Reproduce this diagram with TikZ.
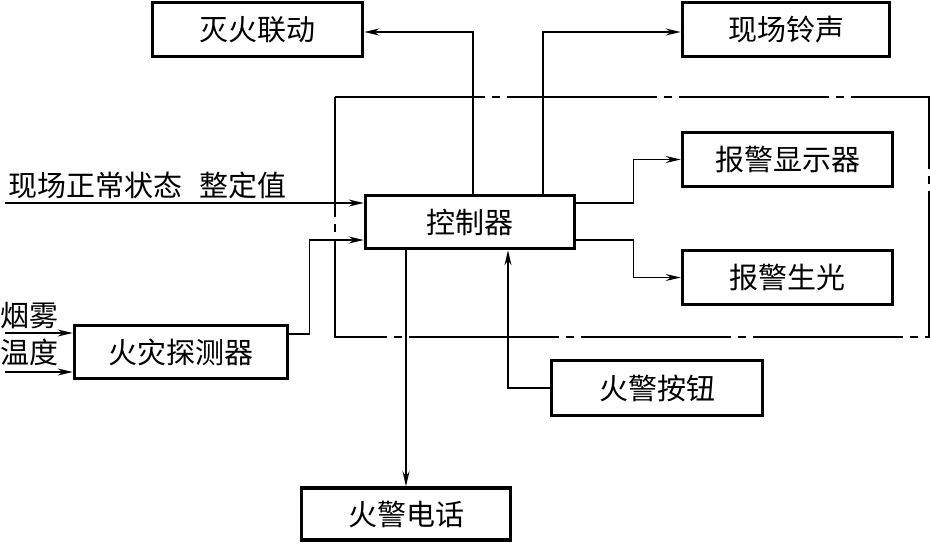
\documentclass[tikz,border=0pt]{standalone}
\usepackage{fontspec}
\newfontfamily\cjk{Noto Sans CJK SC}
\usetikzlibrary{arrows.meta}
\tikzset{
  blk/.style={draw, line width=3.6pt, inner sep=0pt, font=\cjk\fontsize{29}{30}\selectfont},
  lbl/.style={inner sep=0pt, font=\cjk\fontsize{29}{30}\selectfont},
  arr/.style={line width=1.2pt, -{Stealth[length=15pt,width=7pt,inset=5pt]}},
  dashdotbox/.style={line width=1.6pt, dash pattern=on 150pt off 7pt on 8pt off 7pt}
}
\begin{document}
\begin{tikzpicture}[x=1pt,y=-1pt]
\useasboundingbox (0,0) rectangle (930,546);
% dash-dot boundary
\draw[dashdotbox] (335,97) -- (929,97) -- (929,337) -- (335,337) -- cycle;
% boxes
\node[blk, minimum width=210pt, minimum height=54pt] (fire) at (257.5,29.5) {灭火联动};
\node[blk, minimum width=207pt, minimum height=54pt] (bell) at (786,29.5) {现场铃声};
\node[blk, minimum width=210pt, minimum height=54pt] (disp) at (787.5,159.5) {报警显示器};
\node[blk, minimum width=210pt, minimum height=54pt] (light) at (787.5,277.5) {报警生光};
\node[blk, minimum width=209pt, minimum height=53pt] (ctrl) at (470,222) {控制器};
\node[blk, minimum width=213pt, minimum height=53pt] (det) at (181,352) {火灾探测器};
\node[blk, minimum width=211pt, minimum height=55pt] (btn) at (657,388) {火警按钮};
\node[blk, minimum width=209pt, minimum height=52pt] (tel) at (406,514) {火警电话};
% labels
\node[lbl, anchor=west] (lin) at (8,185) {现场正常状态\hspace{17pt}整定值};
\node[lbl, anchor=west] (lsmoke) at (0,316) {烟雾};
\node[lbl, anchor=west] (ltemp) at (0,352) {温度};
% input coordinates
\coordinate (in1) at (5,203);
\coordinate (in2) at (5,333);
\coordinate (in3) at (5,372);
% connectors
\draw[arr] (in1) -- (in1 -| ctrl.west);
\draw[arr] (in2) -- (in2 -| det.west);
\draw[arr] (in3) -- (in3 -| det.west);
\draw[arr] ([yshift=18pt]det.east) -- ++(20,0) |- ([yshift=-18pt]ctrl.west);
\draw[arr] ([xshift=3pt]ctrl.north) |- ([yshift=-2.5pt]fire.east);
\draw[arr] ([xshift=73pt]ctrl.north) |- ([yshift=-2.5pt]bell.west);
\draw[arr] ([yshift=19pt]ctrl.east) -- ++(57,0) |- (disp.west);
\draw[arr] ([yshift=-18pt]ctrl.east) -- ++(57,0) |- (light.west);
\draw[arr] (btn.west) -| ([xshift=38pt]ctrl.south);
\draw[arr] (tel.north |- ctrl.south) -- (tel.north);
\end{tikzpicture}
\end{document}
